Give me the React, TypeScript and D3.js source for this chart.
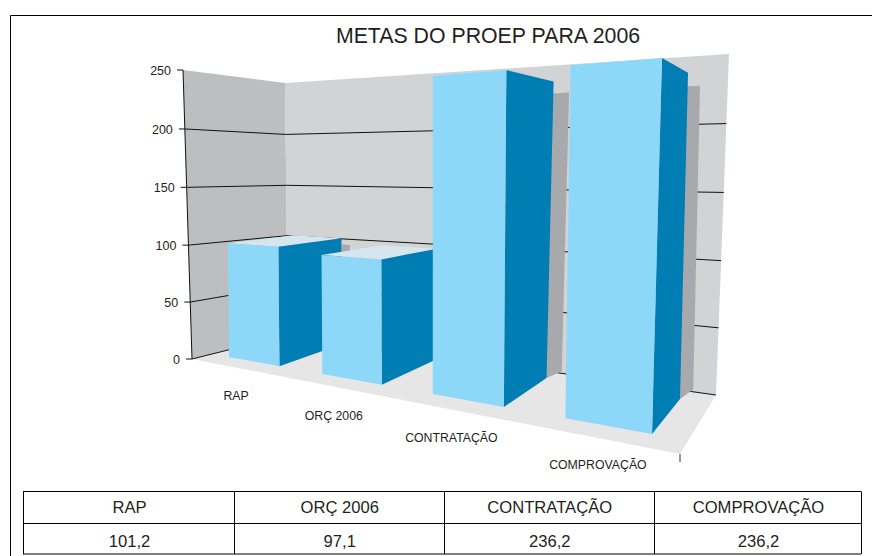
import React from "react";
import * as d3 from "d3";

// ---- data ----
const categories = ["RAP", "ORÇ 2006", "CONTRATAÇÃO", "COMPROVAÇÃO"];
const tableValues = ["101,2", "97,1", "236,2", "236,2"];
const barValues = [101.2, 97.1, 236.2, 236.2];
const yTicks = [0, 50, 100, 150, 200, 250];
const title = "METAS DO PROEP PARA 2006";

// ---- projection anchors (camera of the pseudo-3D scene) ----
type P = [number, number];
const wallFloor = { front: [192, 359] as P, corner: [288, 335] as P, right: [716, 395] as P, near: [680, 454] as P };
const wallTop = { front: [183, 70] as P, corner: [285, 83] as P, right: [729, 54] as P };
const wallFractions = [0, 0.197, 0.394, 0.594, 0.796, 1];
// bar footprint quad [front-left, front-right, back-right, back-left], floor level and at the axis maximum
const footprintFloor: P[] = [[229, 357], [652, 434], [680, 399], [290, 338]];
const footprintTop: P[] = [[226.5, 76], [662.6, 36], [688.5, 53.6], [300, 84]];
const shadowDepth = [0.1, 0.3, 0.3, 0.35];

const COLORS = {
  leftWall: "#bcbec0", backWall: "#d1d3d4", floor: "#e6e6e7", shadow: "#a7a9ac",
  front: "#8dd8f8", side: "#007db3", top: "#d5e6ee", text: "#231f20",
};

function homography(q: P[]) {
  const [[x0, y0], [x1, y1], [x2, y2], [x3, y3]] = q;
  const dx1 = x1 - x2, dx2 = x3 - x2, sx = x0 - x1 + x2 - x3;
  const dy1 = y1 - y2, dy2 = y3 - y2, sy = y0 - y1 + y2 - y3;
  const det = dx1 * dy2 - dx2 * dy1;
  const g = (sx * dy2 - dx2 * sy) / det;
  const h = (dx1 * sy - sx * dy1) / det;
  const a = x1 - x0 + g * x1, b = x3 - x0 + h * x3, c = x0;
  const d = y1 - y0 + g * y1, e = y3 - y0 + h * y3, f = y0;
  return (u: number, v: number): P => {
    const w = g * u + h * v + 1;
    return [(a * u + b * v + c) / w, (d * u + e * v + f) / w];
  };
}

const lerp = (a: P, b: P, t: number): P => [a[0] + (b[0] - a[0]) * t, a[1] + (b[1] - a[1]) * t];

const heightScale = d3.scaleLinear().domain([0, 250]).range([0, 1]);
const wallScale = d3.scaleLinear().domain(yTicks).range(wallFractions);
const band = d3.scaleBand<string>().domain(categories).range([0, 1]).paddingInner(0.44).paddingOuter(0);
const floorH = homography(footprintFloor);
const topH = homography(footprintTop);
const project = (u: number, v: number, value: number): P =>
  lerp(floorH(u, v), topH(u, v), heightScale(value));

const wallAt = (key: "front" | "corner" | "right", value: number): P =>
  lerp(wallFloor[key], wallTop[key], wallScale(value));

const poly = (pts: P[]) => d3.line()(pts)! + "Z";
const labelDx = [-17.5, -17.5, -16, -9.5];
const labelDy = d3.scaleLinear().domain([0, 3]).range([39, 43]);
const FONT = "'Liberation Sans', Arial, sans-serif";

// table layout
const colEdges = [23, 234, 443.5, 654, 861];
const rowEdges = [491.5, 523.5, 554];

export default function App() {
  return (
    <svg width={872} height={556} style={{ position: "absolute", left: 0, top: 0, display: "block", background: "#fff" }} fontFamily={FONT}>
      {/* frame */}
      <path d="M10.5 556V15.5H872" fill="none" stroke="#000" strokeWidth={1} />
      <text x={488} y={43} fontSize={21.3} textAnchor="middle" fill={COLORS.text}>{title}</text>

      {/* walls and floor */}
      <path d={poly([wallAt("front", 250), wallAt("corner", 250), wallAt("corner", 0), wallAt("front", 0)])} fill={COLORS.leftWall} />
      <path d={poly([wallAt("corner", 250), wallAt("right", 250), wallAt("right", 0), wallAt("corner", 0)])} fill={COLORS.backWall} />
      <path d={poly([wallFloor.front, wallFloor.corner, wallFloor.right, wallFloor.near])} fill={COLORS.floor} />

      {/* grid lines and ticks */}
      {yTicks.map((t) => {
        const a = wallAt("front", t), b = wallAt("corner", t), c = wallAt("right", t);
        return (
          <g key={t}>
            {t < 250 && <path d={d3.line()([a, b, c])!} fill="none" stroke="#111" strokeWidth={1} />}
            <line x1={a[0] - 6} x2={a[0]} y1={a[1]} y2={a[1]} stroke="#111" />
            <text x={a[0] - 12} y={a[1] + 5} fontSize={12.5} textAnchor="end" fill={COLORS.text}>{t}</text>
          </g>
        );
      })}
      <path d={d3.line()([wallAt("front", 250), wallAt("front", 0)])!} stroke="#111" fill="none" />
      <line x1={wallFloor.near[0]} x2={wallFloor.near[0]} y1={wallFloor.near[1]} y2={wallFloor.near[1] + 8} stroke="#333" />

      {/* bars, back to front */}
      {categories.map((c, i) => {
        const u0 = band(c)!, u1 = u0 + band.bandwidth(), val = barValues[i];
        const sv = 1 + shadowDepth[i], sh = val - 7, du = 0.01;
        return (
          <g key={c}>
            <path
              d={poly([project(u0, sv, sh), project(u1 + du, sv, sh), project(u1 + du, sv, 0), project(u1, 1, 0), project(u0, 1, 0)])}
              fill={COLORS.shadow}
            />
            <path d={poly([project(u0, 0, val), project(u1, 0, val), project(u1, 1, val), project(u0, 1, val)])} fill={COLORS.top} />
            <path d={poly([project(u1, 0, val), project(u1, 1, val), project(u1, 1, 0), project(u1, 0, 0)])} fill={COLORS.side} />
            <path d={poly([project(u0, 0, val), project(u1, 0, val), project(u1, 0, 0), project(u0, 0, 0)])} fill={COLORS.front} />
          </g>
        );
      })}

      {/* category labels */}
      {categories.map((c, i) => {
        const u = band(c)! + band.bandwidth() / 2;
        const p = project(u, 0, 0);
        return (
          <text key={c} x={p[0] + labelDx[i]} y={p[1] + labelDy(i)} fontSize={12.3} textAnchor="middle" fill={COLORS.text}>{c}</text>
        );
      })}

      {/* table */}
      <g stroke="#000" strokeWidth={1} fill="none">
        {rowEdges.map((y) => <line key={y} x1={colEdges[0]} x2={colEdges[4]} y1={y} y2={y} />)}
        {colEdges.map((x) => <line key={x} x1={Math.round(x) + 0.5} x2={Math.round(x) + 0.5} y1={rowEdges[0]} y2={rowEdges[2]} />)}
      </g>
      {categories.map((c, i) => {
        const x = (colEdges[i] + colEdges[i + 1]) / 2 + 1;
        return (
          <g key={c} fontSize={16.6} textAnchor="middle" fill={COLORS.text}>
            <text x={x} y={513}>{c}</text>
            <text x={x} y={547}>{tableValues[i]}</text>
          </g>
        );
      })}
    </svg>
  );
}
